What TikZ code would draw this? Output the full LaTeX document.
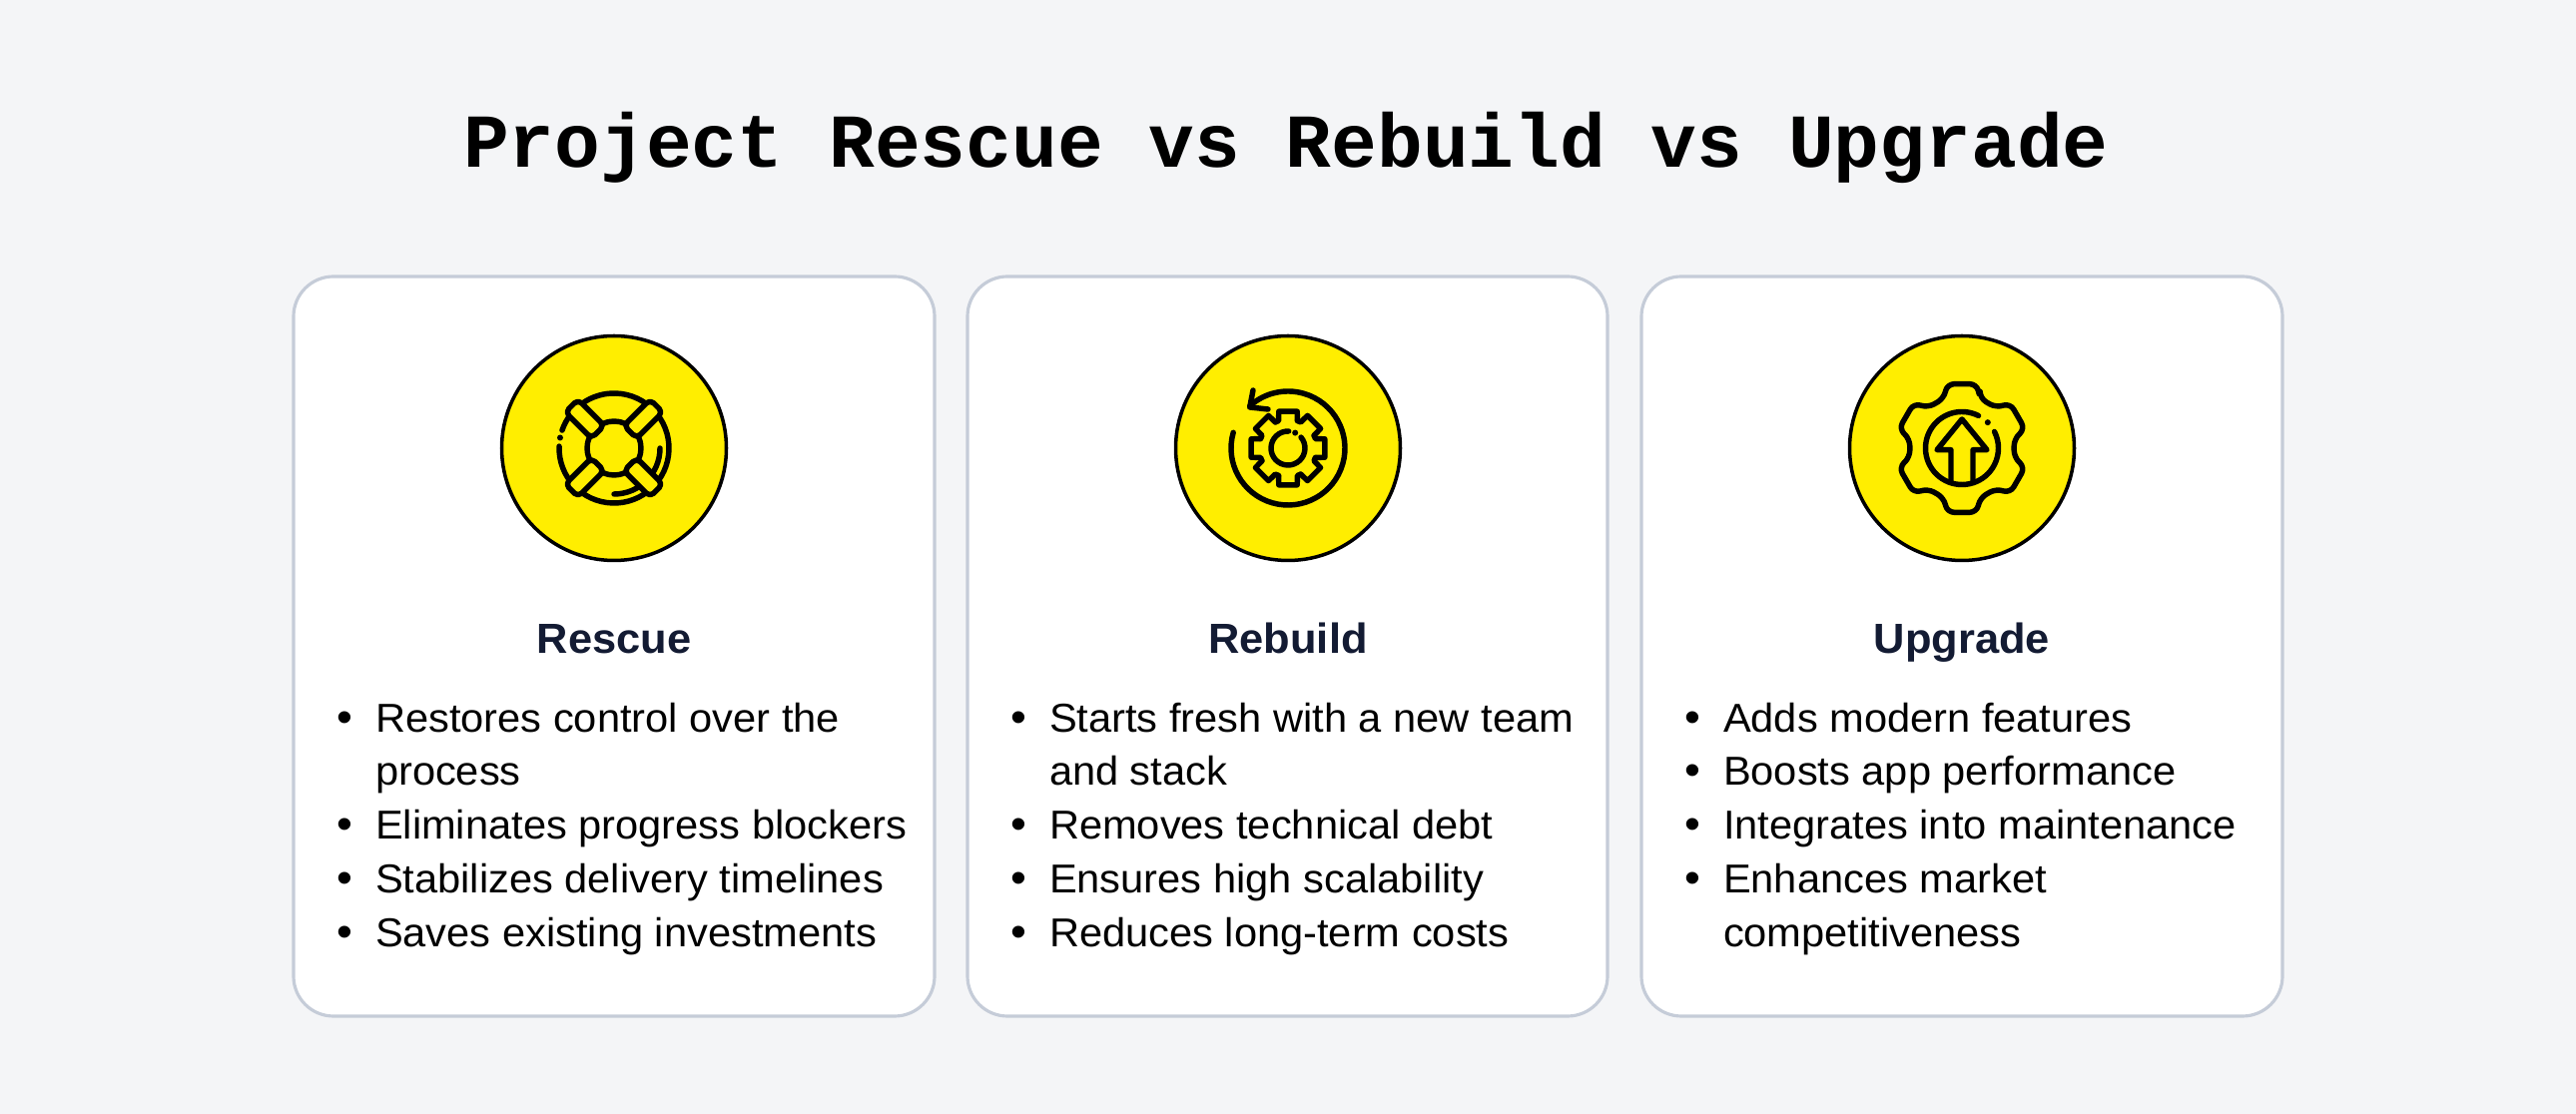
\documentclass[tikz,border=0pt]{standalone}
\usepackage{fontspec}
\usepackage{tikz}
\setmainfont[FakeStretch=1.03]{Liberation Sans}
\newfontfamily\titlefont{Liberation Mono}
\definecolor{pagebg}{HTML}{F4F5F7}
\definecolor{cardline}{HTML}{C5CCD8}
\definecolor{badgefill}{HTML}{FFEE00}
\definecolor{headcolor}{HTML}{131B33}

\begin{document}
\begin{tikzpicture}[x=0.1mm,y=0.1mm]
	\tikzstyle{every node}=[inner sep=0pt,outer sep=0pt]
	\tikzstyle{card}=[draw=cardline,line width=0.9pt,fill=white,rounded corners=4mm]
	\tikzstyle{badge}=[draw=black,line width=1pt,fill=badgefill,circle,minimum size=22.5mm]
	\tikzstyle{icon}=[draw=black,line width=1.55pt,line cap=round,line join=round]
	\tikzstyle{head}=[anchor=base,text=headcolor,font=\fontsize{12pt}{15.4pt}\selectfont\bfseries]
	\tikzstyle{item}=[anchor=base west,text=black,font=\fontsize{11.5pt}{15.4pt}\selectfont]
	\tikzstyle{dot}=[anchor=base,text=black,font=\fontsize{12.5pt}{15.4pt}\selectfont]

	\useasboundingbox[fill=pagebg] (0,0) rectangle (2580,1116);
	\node[anchor=base,font=\fontsize{21.7pt}{26pt}\selectfont\titlefont\bfseries,text=black] (title) at (1288,948) {Project Rescue vs Rebuild vs Upgrade};

	\draw[card] (294,98) rectangle (936,839);
	\draw[card] (969,98) rectangle (1610,839);
	\draw[card] (1644,98) rectangle (2286,839);

	\node[badge] (badgeA) at (615,667) {};
	\node[badge] (badgeB) at (1290,667) {};
	\node[badge] (badgeC) at (1965,667) {};

	% lifebuoy
	\begin{scope}[shift={(615,667)}]
		\draw[icon] (0,0) circle (27);
		\draw[icon] (178:55) arc[start angle=178,end angle=521,radius=55];
		\draw[icon] (0:46) arc[start angle=0,end angle=-90,radius=46];
		\fill (169:55) circle (3);
		\foreach \a in {45,135,225,315}
			\draw[icon,fill=badgefill,rounded corners=0.5mm,rotate=\a] (23,-9) rectangle (60,9);
	\end{scope}

	% turning gear
	\begin{scope}[shift={(1290,667)}]
		\draw[icon] (164:57) arc[start angle=164,end angle=492,radius=57];
		\draw[icon] (-35,58) -- (-38.3,41) -- (-20,39);
		\foreach \a in {0,45,...,315}
			\draw[icon] (\a-19:29) -- (\a-14:38) -- (\a+14:38) -- (\a+19:29) -- (\a+26:29);
		\draw[icon] (88:17) arc[start angle=88,end angle=400,radius=17];
		\fill (65:17) circle (3);
	\end{scope}

	% gear with arrow
	\begin{scope}[shift={(1965,667)}]
		\draw[icon,rounded corners=0.7mm] (70:53)
			\foreach \a in {90,150,210,270,330,390} { -- (\a-20:53) -- (\a-13:66) -- (\a+13:66) -- (\a+20:53) } -- cycle;
		\draw[icon] (63:36.5) arc[start angle=63,end angle=387,radius=36.5];
		\fill (45:36.5) circle (3);
		\draw[icon] (-11,-33.5) -- (-11,-1.7) -- (-25,-1.7) -- (0,29) -- (25,-1.7) -- (11,-1.7) -- (11,-33.5);
	\end{scope}

	\node[head] (headA) at (615,461) {Rescue};
	\node[head] (headB) at (1290,461) {Rebuild};
	\node[head] (headC) at (1965,461) {Upgrade};

	\node[dot] (dotA1) at (345,382) {\textbullet};
	\node[item] (itemA1) at (376,382) {Restores control over the};
	\node[item] (itemA1b) at (376,329) {process};
	\node[dot] (dotA2) at (345,275) {\textbullet};
	\node[item] (itemA2) at (376,275) {Eliminates progress blockers};
	\node[dot] (dotA3) at (345,221) {\textbullet};
	\node[item] (itemA3) at (376,221) {Stabilizes delivery timelines};
	\node[dot] (dotA4) at (345,167) {\textbullet};
	\node[item] (itemA4) at (376,167) {Saves existing investments};

	\node[dot] (dotB1) at (1020,382) {\textbullet};
	\node[item] (itemB1) at (1051,382) {Starts fresh with a new team};
	\node[item] (itemB1b) at (1051,329) {and stack};
	\node[dot] (dotB2) at (1020,275) {\textbullet};
	\node[item] (itemB2) at (1051,275) {Removes technical debt};
	\node[dot] (dotB3) at (1020,221) {\textbullet};
	\node[item] (itemB3) at (1051,221) {Ensures high scalability};
	\node[dot] (dotB4) at (1020,167) {\textbullet};
	\node[item] (itemB4) at (1051,167) {Reduces long-term costs};

	\node[dot] (dotC1) at (1695,382) {\textbullet};
	\node[item] (itemC1) at (1726,382) {Adds modern features};
	\node[dot] (dotC2) at (1695,329) {\textbullet};
	\node[item] (itemC2) at (1726,329) {Boosts app performance};
	\node[dot] (dotC3) at (1695,275) {\textbullet};
	\node[item] (itemC3) at (1726,275) {Integrates into maintenance};
	\node[dot] (dotC4) at (1695,221) {\textbullet};
	\node[item] (itemC4) at (1726,221) {Enhances market};
	\node[item] (itemC4b) at (1726,167) {competitiveness};
\end{tikzpicture}
\end{document}
